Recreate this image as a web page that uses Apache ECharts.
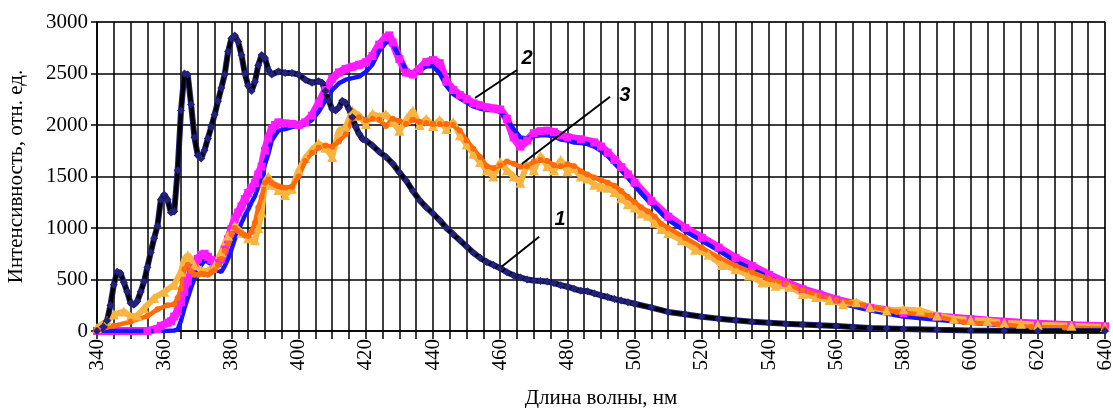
<!DOCTYPE html>
<html>
<head>
<meta charset="utf-8">
<script src="https://cdn.jsdelivr.net/npm/echarts@6/dist/echarts.min.js"></script>
<style>
  html, body { margin: 0; padding: 0; background: #fff; }
  #chart { width: 1113px; height: 408px; }
</style>
</head>
<body>
<div id="chart"></div>
<script>
  // curve 1 (black line, navy diamonds)
  const wl1 = [340, 342, 343, 344, 345, 346, 347, 348, 349, 350, 351, 352, 353, 354, 355, 356, 357, 358, 359, 360,
    361, 362, 363, 364, 365, 366, 367, 368, 369, 370, 371, 372, 373, 374, 375, 376, 377, 378, 379, 380,
    381, 382, 383, 384, 385, 386, 387, 388, 389, 390, 391, 392, 394, 396, 398, 400, 402, 404, 406, 407,
    408, 409, 410, 411, 412, 413, 414, 415, 416, 417, 418, 419, 420, 422, 424, 426, 428, 430, 432, 434,
    436, 438, 440, 442, 444, 446, 448, 450, 452, 454, 456, 458, 460, 462, 464, 466, 468, 470, 472, 474,
    476, 478, 480, 482, 484, 486, 488, 490, 492, 494, 496, 498, 500, 505, 510, 515, 520, 525, 530, 535,
    540, 545, 550, 555, 560, 565, 570, 575, 580, 590, 600, 610, 620, 640];
  const int1 = [0, 40, 100, 250, 450, 575, 560, 470, 380, 270, 255, 290, 380, 480, 620, 765, 900, 1020, 1275, 1325,
    1275, 1150, 1160, 1560, 2140, 2500, 2490, 2200, 1880, 1705, 1675, 1755, 1870, 1980, 2100, 2230, 2360, 2490, 2710, 2840,
    2870, 2810, 2680, 2500, 2380, 2330, 2420, 2580, 2680, 2650, 2535, 2490, 2520, 2505, 2505, 2490, 2440, 2410, 2425, 2410,
    2330, 2235, 2155, 2140, 2170, 2235, 2215, 2155, 2075, 1980, 1915, 1865, 1850, 1800, 1740, 1690, 1625, 1540, 1460, 1360,
    1270, 1200, 1140, 1075, 1000, 940, 880, 820, 760, 710, 670, 640, 610, 570, 540, 520, 500, 490, 485, 480,
    465, 445, 430, 410, 390, 385, 365, 345, 330, 310, 295, 280, 265, 227, 185, 163, 138, 120, 105, 90,
    80, 70, 64, 55, 48, 40, 30, 25, 20, 12, 5, 2, 0, 0];

  // curve 2 (blue line)
  const wl2b = [340, 350, 360, 363, 364, 365, 366, 367, 368, 369, 370, 371, 372, 373, 374, 375, 376, 377, 378, 379,
    380, 381, 382, 383, 384, 385, 386, 387, 388, 389, 390, 391, 392, 393, 394, 395, 396, 398, 400, 402,
    404, 406, 408, 410, 412, 414, 416, 418, 420, 422, 424, 426, 427, 428, 430, 432, 434, 436, 438, 440,
    442, 444, 446, 448, 450, 452, 454, 456, 458, 460, 462, 464, 466, 468, 470, 472, 474, 476, 478, 480,
    482, 484, 486, 488, 490, 492, 494, 496, 498, 500, 502, 504, 506, 508, 510, 515, 520, 525, 530, 535,
    540, 545, 550, 555, 560, 565, 570, 575, 580, 590, 600, 610, 620, 630, 640];
  const int2b = [0, 0, 0, 5, 15, 100, 220, 320, 420, 510, 580, 640, 685, 670, 650, 605, 585, 575, 630, 700,
    790, 890, 970, 1050, 1120, 1180, 1250, 1310, 1400, 1470, 1620, 1720, 1850, 1900, 1945, 1955, 1960, 1980, 1995, 2010,
    2050, 2130, 2240, 2340, 2405, 2440, 2455, 2470, 2515, 2590, 2720, 2800, 2810, 2790, 2660, 2530, 2495, 2530, 2570, 2570,
    2500, 2380, 2300, 2260, 2220, 2180, 2160, 2145, 2150, 2130, 2050, 1960, 1880, 1870, 1890, 1900, 1900, 1890, 1860, 1850,
    1830, 1825, 1815, 1790, 1750, 1700, 1630, 1560, 1490, 1410, 1335, 1265, 1210, 1140, 1080, 970, 875, 780, 680, 600,
    520, 440, 380, 330, 280, 240, 200, 170, 140, 110, 80, 55, 35, 25, 20];

  // curve 2 (magenta squares)
  const wl2m = [340, 355, 358, 359, 361, 362, 363, 364, 365, 366, 367, 368, 369, 370, 371, 372, 373, 374, 375, 376,
    377, 378, 379, 380, 381, 382, 383, 384, 385, 386, 387, 388, 389, 390, 391, 392, 393, 394, 396, 398,
    400, 402, 404, 406, 408, 410, 412, 414, 416, 418, 420, 422, 424, 426, 427, 428, 430, 432, 434, 436,
    438, 440, 442, 444, 446, 448, 450, 452, 454, 456, 458, 460, 462, 464, 466, 468, 470, 472, 474, 476,
    478, 480, 484, 488, 490, 492, 494, 496, 498, 500, 505, 510, 515, 520, 525, 530, 535, 540, 545, 550,
    555, 560, 570, 580, 590, 600, 610, 620, 630, 640];
  const int2m = [0, 0, 20, 50, 80, 95, 140, 190, 280, 380, 480, 575, 650, 700, 740, 750, 720, 690, 645, 660,
    700, 790, 890, 990, 1085, 1150, 1210, 1280, 1340, 1390, 1435, 1520, 1595, 1750, 1870, 1960, 2000, 2025, 2015, 2010,
    2000, 2025, 2090, 2210, 2340, 2450, 2510, 2545, 2565, 2585, 2610, 2670, 2780, 2850, 2870, 2800, 2640, 2510, 2490, 2545,
    2610, 2630, 2600, 2420, 2340, 2290, 2250, 2210, 2190, 2170, 2160, 2150, 2060, 1880, 1790, 1850, 1920, 1940, 1945, 1930,
    1900, 1880, 1860, 1830, 1790, 1730, 1660, 1590, 1520, 1440, 1260, 1110, 1000, 905, 810, 710, 630, 545, 470, 405,
    355, 305, 225, 175, 140, 115, 90, 70, 55, 45];

  // curve 3 (dark orange)
  const wl3o = [340, 345, 350, 355, 358, 361, 363, 364, 365, 366, 367, 368, 369, 370, 371, 372, 373, 374, 375, 376,
    377, 378, 379, 380, 381, 382, 383, 384, 385, 386, 387, 388, 389, 390, 391, 392, 393, 394, 395, 396,
    398, 400, 402, 404, 406, 408, 410, 412, 414, 416, 418, 420, 422, 424, 426, 428, 430, 432, 434, 436,
    438, 440, 442, 444, 446, 448, 450, 452, 454, 456, 458, 460, 462, 464, 466, 468, 470, 472, 474, 476,
    478, 480, 482, 484, 486, 488, 490, 492, 494, 496, 498, 500, 502, 504, 506, 508, 510, 515, 520, 525,
    530, 535, 540, 545, 550, 555, 560, 568, 578, 588, 598, 608, 618, 628, 640];
  const int3o = [10, 50, 90, 145, 210, 250, 260, 320, 410, 600, 640, 580, 545, 545, 555, 550, 545, 570, 590, 640,
    700, 780, 850, 940, 1000, 970, 950, 930, 925, 960, 1050, 1200, 1300, 1440, 1470, 1440, 1420, 1405, 1395, 1390,
    1400, 1500, 1650, 1730, 1780, 1800, 1790, 1840, 1910, 2060, 2075, 2045, 2060, 2050, 1990, 2060, 2040, 2010, 2050, 2030,
    2020, 2010, 2010, 2010, 2000, 1945, 1850, 1770, 1690, 1600, 1580, 1610, 1645, 1625, 1595, 1600, 1645, 1660, 1650, 1610,
    1600, 1620, 1600, 1550, 1520, 1490, 1465, 1440, 1410, 1360, 1300, 1250, 1200, 1160, 1110, 1040, 1000, 905, 810, 715,
    635, 570, 505, 460, 395, 345, 300, 250, 185, 150, 85, 65, 40, 35, 25];

  // curve 3 (light orange triangles)
  const wl3y = [340, 343, 345, 348, 350, 352, 354, 357, 360, 363, 365, 366, 367, 368, 369, 371, 373, 375, 377, 379,
    381, 383, 385, 387, 388, 389, 390, 391, 392, 394, 396, 398, 400, 402, 404, 406, 408, 410, 412, 414,
    416, 418, 420, 422, 424, 426, 428, 430, 432, 434, 436, 438, 440, 442, 444, 446, 448, 450, 452, 454,
    456, 458, 460, 462, 464, 466, 468, 470, 472, 474, 476, 478, 480, 482, 484, 486, 488, 490, 492, 494,
    496, 498, 500, 502, 504, 506, 508, 510, 514, 518, 522, 526, 530, 534, 538, 542, 546, 550, 554, 558,
    562, 566, 570, 575, 580, 585, 590, 595, 600, 605, 610, 615, 620, 630, 640];
  const int3y = [30, 100, 160, 190, 140, 150, 220, 320, 380, 450, 575, 700, 735, 700, 640, 590, 580, 640, 765, 925,
    1020, 955, 900, 880, 1000, 1150, 1450, 1500, 1420, 1370, 1320, 1380, 1560, 1680, 1760, 1820, 1780, 1690, 1945, 1980,
    2140, 2090, 2010, 2110, 2080, 2105, 2030, 1945, 2050, 2140, 2000, 2060, 1990, 2050, 1960, 2030, 1900, 1810, 1720, 1640,
    1560, 1500, 1640, 1560, 1500, 1440, 1620, 1560, 1700, 1600, 1560, 1660, 1550, 1580, 1500, 1480, 1420, 1400, 1390, 1350,
    1290, 1230, 1200, 1140, 1120, 1050, 990, 950, 880, 790, 740, 640, 600, 540, 470, 440, 430, 360, 330, 300,
    260, 280, 230, 200, 210, 200, 150, 120, 110, 100, 80, 70, 60, 50, 40];

  const yTicks = [0, 500, 1000, 1500, 2000, 2500, 3000];

  // curve numbers with leader lines, in data coordinates
  const noteLabels = ['1', '2', '3'];
  const noteFrom = [[460.4, 624], [452.5, 2262], [466.4, 1621]];
  const noteTo = [[471.6, 915], [465, 2534], [492.7, 2275]];
  const noteText = [[477.8, 1078], [468, 2650], [497.1, 2282]];

  const zip = (xs, ys) => xs.map((x, i) => [x, ys[i]]);
  const serif = '"Liberation Serif", "Times New Roman", serif';

  const chart = echarts.init(document.getElementById('chart'));

  const option = {
    animation: false,
    backgroundColor: '#fff',
    grid: {
      left: 97, right: 8, top: 22, bottom: 77,
      containLabel: false, outerBoundsMode: 'none',
      show: true, borderColor: '#8a8a8a', borderWidth: 1.5, backgroundColor: '#fff'
    },
    xAxis: {
      type: 'value',
      min: 340, max: 640, interval: 20,
      name: 'Длина волны, нм',
      nameLocation: 'middle',
      nameGap: 57,
      nameTextStyle: { fontFamily: serif, fontSize: 21, color: '#000' },
      axisLine: { lineStyle: { color: '#000', width: 1.5 } },
      axisTick: { show: true, length: 8, lineStyle: { color: '#000', width: 1.5 } },
      minorTick: { show: true, splitNumber: 4, length: 8, lineStyle: { color: '#000', width: 1.5 } },
      axisLabel: { rotate: 90, margin: 8, fontFamily: serif, fontSize: 21, color: '#000' },
      splitLine: { show: true, lineStyle: { color: '#000', width: 1.5 } },
      minorSplitLine: { show: true, lineStyle: { color: '#000', width: 1.5 } }
    },
    yAxis: {
      type: 'value',
      min: yTicks[0], max: yTicks[yTicks.length - 1], interval: 500,
      name: 'Интенсивность, отн. ед.',
      nameLocation: 'middle',
      nameGap: 70,
      nameTextStyle: { fontFamily: serif, fontSize: 21, color: '#000' },
      axisLine: { show: true, lineStyle: { color: '#000', width: 1.5 } },
      axisTick: { show: true, length: 6, lineStyle: { color: '#000', width: 1.5 } },
      axisLabel: { margin: 9, fontFamily: serif, fontSize: 21, color: '#000', formatter: v => String(v) },
      splitLine: { show: true, lineStyle: { color: '#000', width: 1.5 } }
    },
    series: [
      {
        name: '2 markers', type: 'line', data: zip(wl2m, int2m),
        symbol: 'rect', symbolSize: 8, showAllSymbol: true, itemStyle: { color: '#ff1aff' },
        lineStyle: { color: '#ff1aff', width: 8 }
      },
      {
        name: '2', type: 'line', data: zip(wl2b, int2b), showSymbol: false,
        lineStyle: { color: '#1414ff', width: 4.5 }
      },
      {
        name: '3 markers', type: 'line', data: zip(wl3y, int3y),
        symbol: 'triangle', symbolSize: 10, showAllSymbol: true, itemStyle: { color: '#f7b440' },
        lineStyle: { color: '#f7b440', width: 6 }
      },
      {
        name: '3', type: 'line', data: zip(wl3o, int3o),
        symbol: 'circle', symbolSize: 6, showAllSymbol: true, itemStyle: { color: '#ff6a0a' },
        lineStyle: { color: '#ff6a0a', width: 4.5 }
      },
      {
        name: '1 markers', type: 'line', data: zip(wl1, int1),
        symbol: 'diamond', symbolSize: 8, showAllSymbol: true, itemStyle: { color: '#22227a' },
        lineStyle: { color: '#22227a', width: 6 }
      },
      {
        name: '1', type: 'line', data: zip(wl1, int1), showSymbol: false,
        lineStyle: { color: '#000', width: 4 }
      }
    ]
  };

  chart.setOption(option);

  const notes = [];
  noteLabels.forEach((t, i) => {
    const a = chart.convertToPixel({ gridIndex: 0 }, noteFrom[i]);
    const b = chart.convertToPixel({ gridIndex: 0 }, noteTo[i]);
    const c = chart.convertToPixel({ gridIndex: 0 }, noteText[i]);
    notes.push({
      type: 'line', z: 100,
      shape: { x1: a[0], y1: a[1], x2: b[0], y2: b[1] },
      style: { stroke: '#000', lineWidth: 2 }
    });
    notes.push({
      type: 'text', z: 100, x: c[0], y: c[1],
      style: {
        text: t, fill: '#000', align: 'center', verticalAlign: 'middle',
        font: 'italic bold 20px "Liberation Sans", Arial, sans-serif'
      }
    });
  });
  chart.setOption({ graphic: notes });
</script>
</body>
</html>
